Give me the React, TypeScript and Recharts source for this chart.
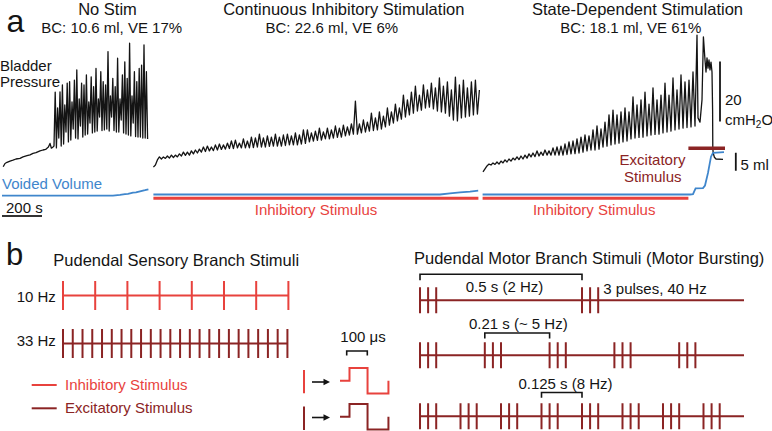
import React from 'react';
import { LineChart, Line, XAxis, YAxis } from 'recharts';

const FONT = '"Liberation Sans", Arial, Helvetica, sans-serif';
const INK = '#141414';
const RED = '#e8423d';
const DARK = '#8b2424';
const BLUE = '#3f86cc';

// ================= Panel a: bladder pressure (cmH2O, relative) and voided volume (ml) vs time (s)
const seg1Ramp: [number, number][] = [[16,4.4],[25,5.5],[35,5.9],[50,6.3],[65,6.6],[80,7],[100,7.2],[115,7.7],[135,8.1],[150,8.4],[165,8.9],[180,9.1],[200,9.7],[215,10],[228,10.2],[235,10.6],[242,11],[250,12.2],[257,10.6],[265,11],[270,11.3]];
const seg1SpikeStart = 276;
const seg1SpikePeriod = 12;
const seg1Peaks = [29.3,24,29.4,31.7,25,32.3,32.8,26,33.3,36.7,27,32.3,31.7,35,26,34.4,31.1,37.2,27,36.1,32.8,31.7,42.8,28,33.9,31.1,40.6,27,35,39.4,33.9,45.6,28,36.1,32.8,37.2,38.3,45,36.1];
const seg1Troughs = [10.7,14,11.3,12,16,12.7,13.3,17,14,13.7,18,14.3,15,15.3,19,15.7,16,16.3,21,16.5,16.7,17,16.3,21,16.5,16,16,20,15.7,15.3,15,14.7,19,14.5,14.3,14.3,14,14,13.7];

const seg2Start = 767;
const seg2Period = 20;
const seg2Troughs = [4.3,6.7,7,7.2,7.3,7.5,7.7,8,8.2,8.3,8.7,9,9.3,9.5,9.7,9.8,10,10.2,10.3,10.5,10.5,10.7,10.7,10.7,10.7,10.8,11,11,11,11.2,11.3,11.3,11.3,11.5,11.7,11.7,11.7,12,12.2,12.7,13,13.2,13.3,13.7,13.7,14,14.2,14.3,14.7,15,15.3,15.3,15.7,16,16.3,16.5,16.7,17,17.7,18.3,19,19.7,20.3,21,21.7,22.3,23,23.3,24,24.3,23.7,23,22.7,22.3,21.3,20,19.7,20.7,21,21.3,21.7,22];
const seg2Peaks = [5,7.7,7.7,8,8.3,8.3,8.7,9.3,9.3,9.7,10,10.3,11,11.3,11,11.7,12,11.7,12.3,13,13.3,12.3,13.7,13,14.3,14,15.3,14,14.7,14.3,15.3,14.3,15,15.3,14.7,15.7,15,16.7,16.7,15.7,16.3,17.3,16,17.3,16.7,18,17.3,18.3,17.7,18.7,26.3,18.7,20,19.3,22.3,20.7,22.7,21.3,24,22.7,25.3,24,28.3,26.7,29.3,31.3,28.3,31.7,30,32.3,30.7,34,31.3,32.7,30,34.3,31.7,33.3,30.7,32.7,33.3,30];

const seg3Start = 2415;
const seg3Period = 20;
const seg3Troughs = [2.7,4.7,5,5.2,5.3,5.7,6,6.3,6.7,6.8,7,7.3,7.7,7.8,8,8.2,8.3,8.3,8.3,8.3,8.3,8.5,8.7,8.8,9,9.3,9.7,10,10,10.3,11,11.3,11.7,12,12.3,12.7,13,13.7,14,14.2,14.3,14.7,15,15.2,15.3,15.7,16,16.3,16.7,17,17.3,17.5,17.7,18];
const seg3Peaks = [3.7,5.3,5.7,6,6.3,6.7,7,7.3,7.7,8,8.3,8.7,9,9.7,9.3,10,9.7,10.7,11,11.3,12,12.7,13,13.7,14.3,15,14.7,16.7,18,17,19.3,21.7,23.3,21.7,22.7,24,22.7,27.7,25,26.7,29.3,25.3,30.7,26.7,28.3,32.3,28.3,34,30,35,32.7,33.3,36,48.3];
const seg3Void: [number, number][] = [[3490,20.7],[3500,19.3],[3510,26.7],[3517,47.7],[3525,40],[3530,36],[3535,40.7],[3540,37.3],[3545,40],[3550,36.7],[3555,39.3],[3560,36],[3563,23.3],[3564,10.7],[3566,9],[3572,7.6],[3580,7],[3615,6.9]];

const seg1Volume: [number, number][] = [[10,-0.3],[565,-0.3],[600,-0.1],[625,0.1],[640,0.2],[665,0.5],[680,0.6],[700,0.9],[725,1.2],[742,1.45]];
const seg2Volume: [number, number][] = [[767,0],[2200,0],[2250,0.3],[2300,0.6],[2350,0.8],[2391,1.05]];
const seg3Volume: [number, number][] = [[2413,0],[3450,0],[3465,0.1],[3478,1.7],[3515,1.8],[3525,2.5],[3540,6],[3555,10.5],[3565,11.6],[3620,11.8]];

const inhibitoryPeriods: [number, number][] = [[767,2392],[2413,3442]];
const excitatoryPeriods: [number, number][] = [[3442,3625]];

const timeScaleBar = 200; // s
const pressureScaleBar = 20; // cmH2O
const volumeScaleBar = 5; // ml

// ================= Panel b: stimulus trains
const sensory10Hz = [0,0.1,0.2,0.3,0.4,0.5,0.6,0.7];
const sensory33Hz = [0,0.0303,0.0606,0.0909,0.1212,0.1515,0.1818,0.2121,0.2424,0.2727,0.303,0.3333,0.3636,0.3939,0.4242,0.4545,0.4848,0.5152,0.5455,0.5758,0.6061,0.6364,0.6667,0.697];
const burstPulseOffsets = [0,0.025,0.05];
const motor2HzBursts = [0,0.5];
const motor5HzBursts = [0,0.2,0.4,0.6,0.8];
const motor8HzBursts = [0,0.125,0.25,0.375,0.5,0.625,0.75,0.875];
const motorTrainEnd = 1.0;
const bracket2Hz: [number, number] = [0,0.5];
const bracket5Hz: [number, number] = [0.2,0.4];
const bracket8Hz: [number, number] = [0.375,0.5];
const pulseEdgesUs = [0,50,145,255];
const pulsePhases = [0,1,-1,0];

// ---------- builders
const toSeries = (arr: [number, number][], key: string) => arr.map(([t, val]) => ({ t, [key]: val }));
function spikes(start: number, period: number, first: number[], second: number[]) {
  const n = Math.min(first.length, second.length);
  const out: { t: number; p: number }[] = [];
  for (let i = 0; i < n; i++) {
    out.push({ t: start + i * period, p: first[i] });
    out.push({ t: start + i * period + period / 2, p: second[i] });
  }
  return out;
}
const seg1Data = [...toSeries(seg1Ramp, 'p'), ...spikes(seg1SpikeStart, seg1SpikePeriod, seg1Peaks, seg1Troughs)];
const seg2Data = spikes(seg2Start, seg2Period, seg2Troughs, seg2Peaks);
const seg3Data = [...spikes(seg3Start, seg3Period, seg3Troughs, seg3Peaks), ...toSeries(seg3Void, 'p')];

function trainData(times: number[], end: number) {
  const d: { x: number; y: number }[] = [];
  times.forEach((t) => {
    d.push({ x: t, y: 0 }, { x: t, y: 1 }, { x: t, y: -1 }, { x: t, y: 0 });
  });
  d.push({ x: end, y: 0 });
  return d;
}
const bursts = (onsets: number[]) => onsets.flatMap((b) => burstPulseOffsets.map((o) => b + o));
const bracketData = (span: [number, number], lo: number, hi: number) => [
  { x: span[0], y: lo }, { x: span[0], y: hi }, { x: span[1], y: hi }, { x: span[1], y: lo },
];
function pulseData() {
  const d: { x: number; y: number }[] = [];
  pulseEdgesUs.forEach((e, i) => {
    if (i > 0) d.push({ x: e, y: pulsePhases[i - 1] });
    d.push({ x: e, y: pulsePhases[i] });
  });
  return d;
}

type S = { data: { x: number; y: number }[]; color: string; width: number };
function PanelChart(props: { x0: number; y0: number; sx: number; sy: number; xMax: number; yMin: number; yMax: number; series: S[] }) {
  const { x0, y0, sx, sy, xMax, yMin, yMax, series } = props;
  const m = 4;
  const w = xMax * sx + 2 * m;
  const h = (yMax - yMin) * sy + 2 * m;
  return (
    <div style={{ position: 'absolute', left: x0 - m, top: y0 - yMax * sy - m, width: w, height: h }}>
      <LineChart width={w} height={h} margin={{ top: m, right: m, bottom: m, left: m }}>
        <XAxis type="number" dataKey="x" domain={[0, xMax]} hide />
        <YAxis type="number" domain={[yMin, yMax]} hide />
        {series.map((s, i) => (
          <Line key={i} data={s.data} dataKey="y" type="linear" stroke={s.color} strokeWidth={s.width}
            dot={false} activeDot={false} isAnimationActive={false} strokeLinecap="butt" />
        ))}
      </LineChart>
    </div>
  );
}

const INH_LEVEL = -1.05; // ml-axis position of stimulus bars
const EXC_LEVEL = 12.85;

function PanelA() {
  const common = { dot: false, activeDot: false, isAnimationActive: false, type: 'linear' as const };
  return (
    <div style={{ position: 'absolute', left: 0, top: 0, width: 772, height: 225 }}>
      <LineChart width={772} height={225} margin={{ top: 0, right: 0, bottom: 0, left: 0 }}>
        <XAxis type="number" dataKey="t" domain={[0, 3860]} hide />
        <YAxis yAxisId="p" type="number" domain={[-15, 60]} hide />
        <YAxis yAxisId="v" type="number" domain={[-8.47, 54.03]} hide />
        {[seg1Data, seg2Data, seg3Data].map((d, i) => (
          <Line key={'p' + i} {...common} yAxisId="p" data={d} dataKey="p" stroke={INK} strokeWidth={1.3} strokeLinejoin="round" />
        ))}
        {[seg1Volume, seg2Volume, seg3Volume].map((d, i) => (
          <Line key={'v' + i} {...common} yAxisId="v" data={toSeries(d, 'v')} dataKey="v" stroke={BLUE} strokeWidth={1.8} />
        ))}
        {inhibitoryPeriods.map(([a, b], i) => (
          <Line key={'i' + i} {...common} yAxisId="v" data={[{ t: a, v: INH_LEVEL }, { t: b, v: INH_LEVEL }]} dataKey="v" stroke={RED} strokeWidth={3} />
        ))}
        {excitatoryPeriods.map(([a, b], i) => (
          <Line key={'e' + i} {...common} yAxisId="v" data={[{ t: a, v: EXC_LEVEL }, { t: b, v: EXC_LEVEL }]} dataKey="v" stroke={DARK} strokeWidth={3.5} />
        ))}
        <Line {...common} yAxisId="p" data={[{ t: 10, p: -12 }, { t: 10 + timeScaleBar, p: -12 }]} dataKey="p" stroke="#333" strokeWidth={1.8} />
        <Line {...common} yAxisId="p" data={[{ t: 3600, p: 19.5 }, { t: 3600, p: 19.5 + pressureScaleBar }]} dataKey="p" stroke={INK} strokeWidth={1.8} />
        <Line {...common} yAxisId="v" data={[{ t: 3679, v: 6.6 }, { t: 3679, v: 6.6 + volumeScaleBar }]} dataKey="v" stroke={INK} strokeWidth={1.8} />
      </LineChart>
    </div>
  );
}

type Lbl = { t: string; x: number; y: number; s: number; a?: 'start' | 'middle' | 'end'; c?: string };
const labels: Lbl[] = [
  { t: 'a', x: 6.5, y: 32, s: 32 },
  { t: 'No Stim', x: 107.5, y: 15, s: 16.5, a: 'middle' },
  { t: 'BC: 10.6 ml, VE 17%', x: 111.7, y: 33, s: 15, a: 'middle' },
  { t: 'Continuous Inhibitory Stimulation', x: 343.8, y: 15, s: 16.5, a: 'middle' },
  { t: 'BC: 22.6 ml, VE 6%', x: 331.8, y: 33, s: 15, a: 'middle' },
  { t: 'State-Dependent Stimulation', x: 637.5, y: 15, s: 16.5, a: 'middle' },
  { t: 'BC: 18.1 ml, VE 61%', x: 630.8, y: 33, s: 15, a: 'middle' },
  { t: 'Bladder', x: 0, y: 71, s: 15 },
  { t: 'Pressure', x: 0, y: 86.7, s: 15 },
  { t: 'Voided Volume', x: 2, y: 189.3, s: 15, c: BLUE },
  { t: '200 s', x: 6, y: 213, s: 15 },
  { t: 'Inhibitory Stimulus', x: 316, y: 214.7, s: 15, a: 'middle', c: RED },
  { t: 'Inhibitory Stimulus', x: 594.2, y: 214.7, s: 15, a: 'middle', c: RED },
  { t: 'Excitatory', x: 652.5, y: 165, s: 15, a: 'middle', c: DARK },
  { t: 'Stimulus', x: 652.8, y: 181.7, s: 15, a: 'middle', c: DARK },
  { t: '20', x: 725, y: 105, s: 15 },
  { t: '5 ml', x: 740.5, y: 170, s: 15 },
  { t: 'b', x: 6, y: 265, s: 31 },
  { t: 'Pudendal Sensory Branch Stimuli', x: 53.3, y: 265.5, s: 16.5 },
  { t: '10 Hz', x: 16.7, y: 301.5, s: 15 },
  { t: '33 Hz', x: 16.7, y: 345.5, s: 15 },
  { t: 'Inhibitory Stimulus', x: 65, y: 390.3, s: 15, c: RED },
  { t: 'Excitatory Stimulus', x: 65, y: 412.7, s: 15, c: DARK },
  { t: '100 \u03bcs', x: 363, y: 342.4, s: 15, a: 'middle' },
  { t: 'Pudendal Motor Branch Stimuli (Motor Bursting)', x: 414, y: 263.5, s: 16.5 },
  { t: '0.5 s (2 Hz)', x: 504.5, y: 292.4, s: 15, a: 'middle' },
  { t: '3 pulses, 40 Hz', x: 603.3, y: 293.8, s: 15 },
  { t: '0.21 s (~ 5 Hz)', x: 518.3, y: 328.7, s: 15, a: 'middle' },
  { t: '0.125 s (8 Hz)', x: 565.5, y: 388.7, s: 15, a: 'middle' },
];

function Overlay() {
  return (
    <svg width={772} height={431} style={{ position: 'absolute', left: 0, top: 0, pointerEvents: 'none' }}>
      {labels.map((l, i) => (
        <text key={i} x={l.x} y={l.y} fontSize={l.s} fontFamily={FONT} fill={l.c || INK} textAnchor={l.a || 'start'}>{l.t}</text>
      ))}
      <text x={725} y={125} fontSize={15} fontFamily={FONT} fill={INK}>
        cmH<tspan fontSize={10} dy={3}>2</tspan><tspan dy={-3}>O</tspan>
      </text>
      {/* legend keys */}
      <line x1={31.7} x2={56.7} y1={385} y2={385} stroke={RED} strokeWidth={2} />
      <line x1={31.7} x2={56.7} y1={408.3} y2={408.3} stroke={DARK} strokeWidth={2} />
      {/* single pulse ticks and arrows */}
      <line x1={304} x2={304} y1={370} y2={393.3} stroke={RED} strokeWidth={2} />
      <line x1={304} x2={304} y1={406.5} y2={430} stroke={DARK} strokeWidth={2} />
      <line x1={312} x2={325} y1={382} y2={382} stroke={INK} strokeWidth={1.6} />
      <polygon points="323.5,378.8 330,382 323.5,385.2" fill={INK} />
      <line x1={312} x2={325} y1={417.5} y2={417.5} stroke={INK} strokeWidth={1.6} />
      <polygon points="323.5,414.3 330,417.5 323.5,420.7" fill={INK} />
      {/* 100 us bracket */}
      <path d="M346.7 355.5 V351 H367.3 V355.5" fill="none" stroke={INK} strokeWidth={1.6} />
    </svg>
  );
}

export default function App() {
  const sens = { x0: 63.3, sx: 322, sy: 14.5, xMax: 0.7, yMin: -1, yMax: 1 };
  const mot = { x0: 420, sx: 324, sy: 13, xMax: motorTrainEnd, yMin: -1, yMax: 2.1 };
  const pul = { x0: 340, sx: 0.19, sy: 12.75, xMax: 255, yMin: -1, yMax: 1 };
  return (
    <div style={{ position: 'absolute', left: 0, top: 0, width: 772, height: 431, overflow: 'hidden', background: '#fff' }}>
      <PanelA />
      <PanelChart {...sens} y0={295.5} series={[{ data: trainData(sensory10Hz, 0.7), color: RED, width: 2 }]} />
      <PanelChart {...sens} y0={343} series={[{ data: trainData(sensory33Hz, 0.697), color: DARK, width: 2 }]} />
      <PanelChart {...pul} y0={381} series={[{ data: pulseData(), color: RED, width: 2 }]} />
      <PanelChart {...pul} y0={417} series={[{ data: pulseData(), color: DARK, width: 2 }]} />
      <PanelChart {...mot} y0={300} series={[
        { data: trainData(bursts(motor2HzBursts), motorTrainEnd), color: DARK, width: 2 },
        { data: bracketData(bracket2Hz, 1.55, 2.0), color: INK, width: 1.6 },
      ]} />
      <PanelChart {...mot} y0={355} series={[
        { data: trainData(bursts(motor5HzBursts), motorTrainEnd), color: DARK, width: 2 },
        { data: bracketData(bracket5Hz, 1.3, 1.72), color: INK, width: 1.6 },
      ]} />
      <PanelChart {...mot} y0={416.5} series={[
        { data: trainData(bursts(motor8HzBursts), motorTrainEnd), color: DARK, width: 2 },
        { data: bracketData(bracket8Hz, 1.42, 1.83), color: INK, width: 1.6 },
      ]} />
      <Overlay />
    </div>
  );
}
